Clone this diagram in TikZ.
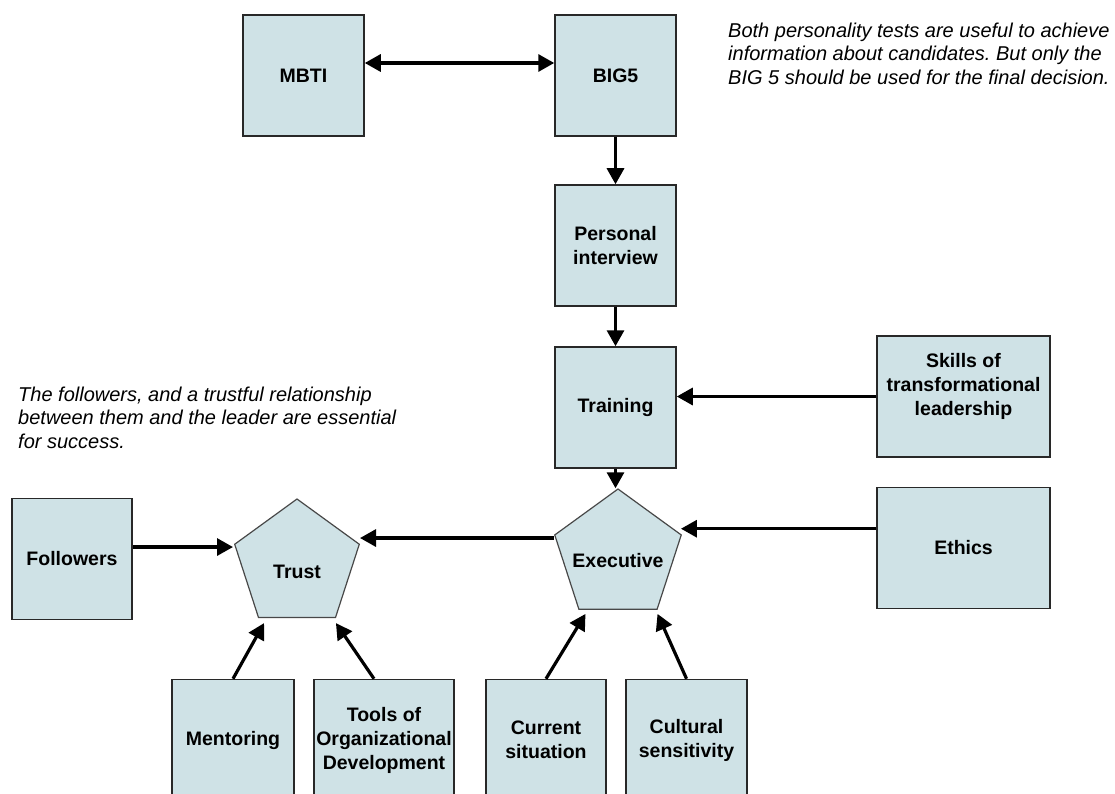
\documentclass[tikz,border=0pt]{standalone}
\usepackage{fontspec}
\setmainfont{Liberation Sans}
\usetikzlibrary{arrows.meta,shapes.geometric,calc}
\definecolor{boxfill}{RGB}{207,226,230}
\definecolor{boxline}{RGB}{40,40,40}
\frenchspacing
\begin{document}
\begin{tikzpicture}[x=1pt,y=-1pt,
  box/.style={draw=boxline, line width=1.5pt, fill=boxfill, minimum height=121pt,
    inner sep=0pt, align=center, font=\bfseries\fontsize{19.5}{24}\selectfont},
  pent/.style={regular polygon, regular polygon sides=5, draw=boxline!85,
    line width=1.2pt, fill=boxfill, inner sep=0pt,
    font=\bfseries\fontsize{19.5}{24}\selectfont},
  tip/.tip={Triangle[length=16pt,width=17pt]},
  arr/.style={line width=3.2pt, -tip},
  arrboth/.style={line width=3.2pt, tip-tip},
  note/.style={anchor=north west, inner sep=0pt, align=left,
    font=\itshape\fontsize{20}{23.3}\selectfont}
]
\fill[white] (0,0) rectangle (1115,794);
\clip (0,0) rectangle (1115,794);

% boxes
\node[box, minimum width=121pt] (mbti) at (303.5,75.5) {MBTI};
\node[box, minimum width=121pt] (big5) at (615.5,75.5) {BIG5};
\node[box, minimum width=121pt] (interview) at (615.5,245.5) {Personal\\interview};
\node[box, minimum width=121pt] (training) at (615.5,407.5) {Training};
\node[box, minimum width=173pt] (skills) at (963.5,396.5) {Skills of\\transformational\\leadership\\~};
\node[box, minimum width=173pt] (ethics) at (963.5,548) {Ethics};
\node[box, minimum width=120pt] (followers) at (72,559) {Followers};
\node[box, minimum width=122pt] (mentoring) at (233,740) {Mentoring};
\node[box, minimum width=140pt] (tools) at (384,740) {Tools of\\Organizational\\Development};
\node[box, minimum width=120pt] (current) at (546,740) {Current\\situation};
\node[box, minimum width=121pt] (cultural) at (686.5,740) {Cultural\\sensitivity};

% pentagons
\node[pent, minimum size=131pt] (trust) at (297,564.5) {\makebox[0pt]{\raisebox{-13.5pt}[0pt][0pt]{Trust}}};
\node[pent, minimum size=133pt] (exec) at (618,555.5) {\makebox[0pt]{\raisebox{-12pt}[0pt][0pt]{Executive}}};

% notes
\node[note] (note1) at (728,23) {Both personality tests are useful to achieve\\information about candidates. But only the\\BIG 5 should be used for the final decision.};
\node[note] (note2) at (18,387) {The followers, and a trustful relationship\\between them and the leader are essential\\for success.};

% helper coordinates
\coordinate (ein) at ($(exec.corner 5)+(-1,-6)$);
\coordinate (tin) at ($(trust.corner 5)+(0,-6)$);
\coordinate (fin) at ($(trust.corner 2)+(-1,3)$);
\coordinate (men) at ($(trust.corner 3)+(6,5)$);
\coordinate (toe) at ($(trust.corner 4)+(0,5)$);
\coordinate (cue) at ($(exec.corner 3)+(7,4)$);
\coordinate (cle) at ($(exec.corner 4)+(0,4)$);

% connectors
\draw[arrboth] ([yshift=12.5pt]mbti.east) -- ([yshift=12.5pt]big5.west);
\draw[arr] (big5) -- (interview);
\draw[arr] (interview) -- (training);
\draw[arr] (skills.west) -- (skills.west -| training.east);
\draw[arr] (training.south) -- (training.south |- exec.corner 1);
\draw[arr] (ethics.west |- ein) -- (ein);
\draw[arr] (exec.corner 2 |- tin) -- (tin);
\draw[arr] (followers.east |- fin) -- (fin);
\draw[arr] (mentoring.north) -- (men);
\draw[arr] ([xshift=-10pt]tools.north) -- (toe);
\draw[arr] (current.north) -- (cue);
\draw[arr] (cultural.north) -- (cle);
\end{tikzpicture}
\end{document}
